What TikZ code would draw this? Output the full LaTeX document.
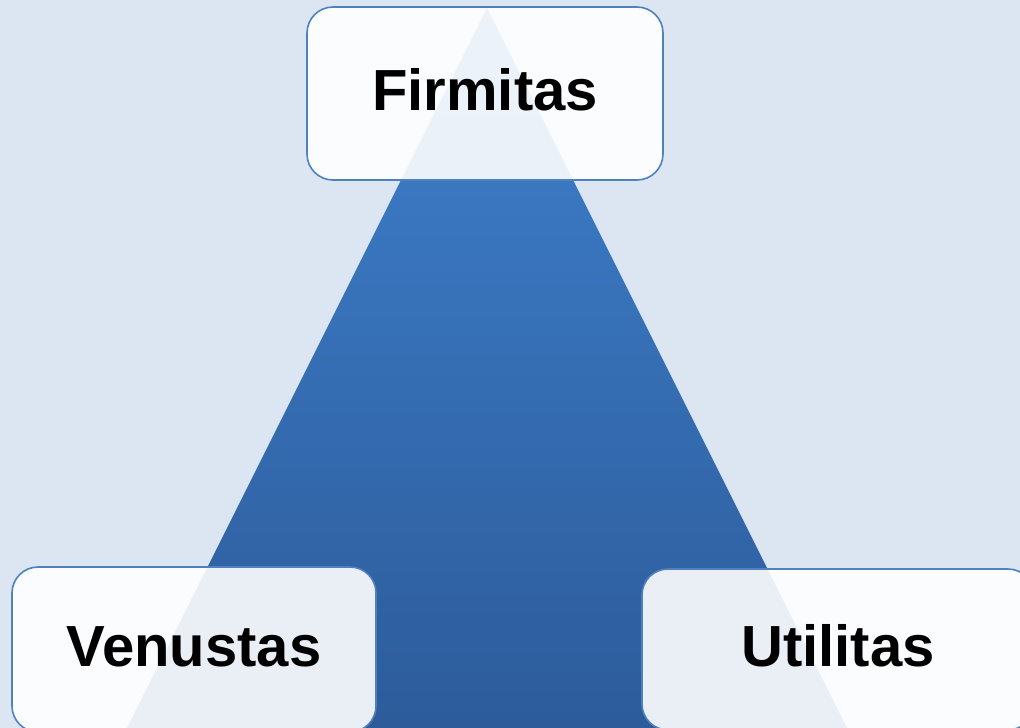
\documentclass[tikz,border=0pt]{standalone}
\usepackage{fontspec}
\setmainfont{Liberation Sans}
\definecolor{bgblue}{RGB}{220,230,242}
\definecolor{boxline}{RGB}{79,129,189}
\definecolor{tritop}{RGB}{62,128,205}
\definecolor{tribot}{RGB}{44,90,152}
\tikzset{
  pillar/.style={draw=boxline, line width=1.6pt, rounded corners=26pt,
    fill=white, fill opacity=0.9, text opacity=1, inner sep=0pt,
    text height=42pt, text depth=8pt,
    font=\fontsize{58}{60}\selectfont\bfseries}
}
\begin{document}
\begin{tikzpicture}
[x=1pt, y=-1pt]
\useasboundingbox (0,0) rectangle (1020,728);
\clip (0,0) rectangle (1020,728);
\fill[bgblue] (0,0) rectangle (1020,728);
\shade[top color=tritop, bottom color=tribot] (487,8) -- (863,760) -- (111,760) -- cycle;
\node[pillar, minimum width=356pt, minimum height=173pt] (firmitas) at (485,93.5) {Firmitas};
\node[pillar, minimum width=364pt, minimum height=165pt] (venustas) at (194,649.5) {Venustas};
\node[pillar, minimum width=392pt, minimum height=161pt] (utilitas) at (838,649.5) {Utilitas};
\end{tikzpicture}
\end{document}
